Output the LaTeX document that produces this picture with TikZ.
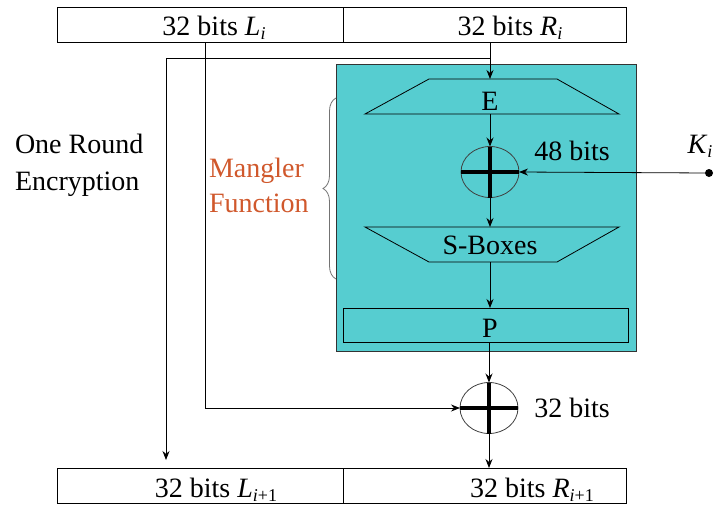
\documentclass[tikz,border=0pt]{standalone}
\usepackage{fontspec}
\setmainfont{Liberation Serif}
\usetikzlibrary{arrows.meta,decorations.pathreplacing,shapes.geometric}
\definecolor{mcyan}{RGB}{86,205,208}
\definecolor{morange}{RGB}{208,88,44}
\newcommand{\lowsub}[1]{\raisebox{-0.35ex}{\fontsize{18}{18}\selectfont #1}}
\begin{document}
\begin{tikzpicture}[x=1pt,y=-1pt,line width=0.8pt,
  every node/.style={font=\fontsize{28}{32}\selectfont, inner sep=0pt, outer sep=0pt},
  arr/.style={-{Stealth[length=9pt,width=7pt]}},
  lbl/.style={anchor=base},
  lblw/.style={anchor=base west},
  halfbox/.style={draw, minimum width=286pt, minimum height=35pt, anchor=north west},
  xor/.style={draw=black!75, ellipse, minimum width=58pt, minimum height=51pt},
  bar/.style={line width=4pt},
]
\useasboundingbox (0,0) rectangle (717,507);

% mangler box
\node[draw=black!80, fill=mcyan, minimum width=300pt, minimum height=287pt, anchor=north west] (M) at (336,64) {};

% top and bottom halves
\node[halfbox] (Lbox) at (57,7) {};
\node[halfbox, minimum width=283pt] (Rbox) at (343,7) {};
\node[halfbox] (L2box) at (57,468) {};
\node[halfbox, minimum width=283pt] (R2box) at (343,468) {};
\node[lbl] (Lt) at (214,35) {32 bits \textit{L}\lowsub{\textit{i}}};
\node[lbl] (Rt) at (510,35) {32 bits \textit{R}\lowsub{\textit{i}}};
\node[lbl] (L2t) at (216,497) {32 bits \textit{L}\lowsub{\textit{i}+1}};
\node[lbl] (R2t) at (532,497) {32 bits \textit{R}\lowsub{\textit{i}+1}};

% E expansion
\draw (429,79) -- (557,79) -- (619,114) -- (365,114) -- cycle;
\coordinate (Etop) at (490,79);
\coordinate (Ebot) at (490,114);
\node[lbl] (E) at (490,110) {E};

% XOR 1
\node[xor] (X1) at (490,172) {};
\draw[bar] (X1.west) -- (X1.east);
\draw[bar] (X1.north) -- (X1.south);
\node[lbl] (b48) at (572,160) {48 bits};
\node[lbl] (Kt) at (700,153) {\textit{K}\lowsub{\textit{i}}};
\node[circle, fill, minimum size=8pt] (K) at (709,173) {};

% S-boxes
\draw (365,227) -- (619,227) -- (557,262) -- (429,262) -- cycle;
\coordinate (Stop) at (490,227);
\coordinate (Sbot) at (490,262);
\node[lbl] (S) at (490,254) {S-Boxes};

% P
\node[draw, minimum width=285pt, minimum height=34pt] (P) at (486,325) {};
\node[lbl] (Pt) at (490,337) {P};

% XOR 2
\node[xor] (X2) at (489,408) {};
\draw[bar] (X2.west) -- (X2.east);
\draw[bar] (X2.north) -- (X2.south);
\node[lbl] (b32) at (572,417) {32 bits};

% brace and labels
\draw[black!55, decorate, decoration={brace, amplitude=13pt}] (336,279) -- (336,98);
\node[lblw, text=morange] (Mg) at (209,177) {Mangler};
\node[lblw, text=morange] (Fn) at (209,212) {Function};
\node[lblw] (OR) at (15,153) {One Round};
\node[lblw] (En) at (15,190) {Encryption};

% connectors
\coordinate (Lx) at (205,0);
\coordinate (Br) at (490,58);
\coordinate (Ldown) at (166,460);
\draw[arr] (Lbox.south -| Lx) |- (X2.west);
\draw[arr] (Rbox.south -| Etop) -- (Etop);
\draw[arr] (Br) -| (Ldown);
\draw[arr] (Ebot) -- (X1.north);
\draw[arr] (K) -- (X1.east);
\draw[arr] (X1.south) -- (Stop);
\draw[arr] (Sbot) -- (P.north -| Sbot);
\draw[arr] (P.south -| X2) -- (X2.north);
\draw[arr] (X2.south) -- (R2box.north -| X2);
\end{tikzpicture}
\end{document}
